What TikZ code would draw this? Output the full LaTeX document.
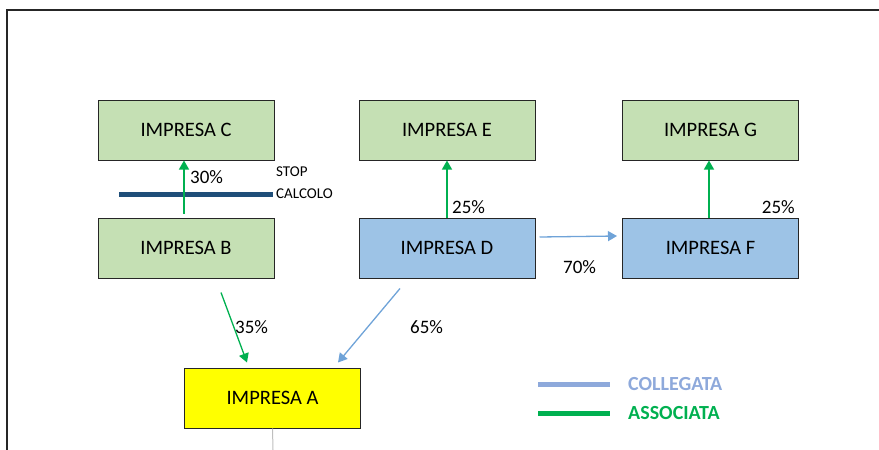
\documentclass[tikz,border=0pt]{standalone}
\usepackage{fontspec}
\setmainfont{Carlito}
\usetikzlibrary{arrows.meta,calc}
\definecolor{boxgreen}{HTML}{C5E0B4}
\definecolor{boxblue}{HTML}{9DC3E6}
\definecolor{boxyellow}{HTML}{FFFF00}
\definecolor{assoc}{HTML}{00B050}
\definecolor{colleg}{HTML}{6FA3D8}
\definecolor{legblue}{HTML}{8EA9DB}
\definecolor{stopblue}{HTML}{1F4E79}
\definecolor{edge}{HTML}{262626}
\tikzset{
  company/.style={draw=edge, line width=1pt, minimum width=176pt, minimum height=60pt, inner sep=0pt, font=\fontsize{20.5}{23}\selectfont,
    append after command={[draw=black!55, line width=0.9pt] ([xshift=1pt]\tikzlastnode.north east) -- ([xshift=1pt,yshift=-1pt]\tikzlastnode.south east) -- ([yshift=-1pt]\tikzlastnode.south west)}},
  greenbox/.style={company, fill=boxgreen},
  bluebox/.style={company, fill=boxblue},
  yellowbox/.style={company, fill=boxyellow},
  assocarrow/.style={draw=assoc, line width=1.3pt, -{Triangle[length=9pt,width=10pt]}},
  collegarrow/.style={draw=colleg, line width=1.3pt, -{Triangle[length=9pt,width=10pt]}},
  pct/.style={inner sep=0pt, font=\fontsize{19}{22}\selectfont},
  small/.style={inner sep=0pt, font=\fontsize{15}{17}\selectfont},
  legtext/.style={inner sep=0pt, anchor=west, font=\fontsize{20}{22}\selectfont\bfseries},
}
\begin{document}
\begin{tikzpicture}[x=1pt,y=-1pt]
\useasboundingbox (0,0) rectangle (879,450);
% frame
\draw[black!85, line width=1.3pt] (7,450) -- (7,10) -- (879,10);
% boxes
\node[greenbox] (C) at (186,130) {IMPRESA C};
\node[greenbox] (B) at (186,248) {IMPRESA B};
\node[greenbox] (E) at (447,130) {IMPRESA E};
\node[bluebox] (D) at (447,248) {IMPRESA D};
\node[greenbox] (G) at (710.5,130) {IMPRESA G};
\node[bluebox] (F) at (710.5,248) {IMPRESA F};
\node[yellowbox] (A) at (272.5,398) {IMPRESA A};
% stop line
\draw[stopblue, line width=5pt] (119,194) -- (273,194);
\node[small, anchor=west] (stop) at (276,172) {STOP};
\node[small, anchor=west] (calc) at (276,194) {CALCOLO};
% connectors
\draw[assocarrow] ($(B.north)+(-2,-4)$) -- ($(C.south)+(-2,0)$);
\draw[assocarrow] (D.north) -- (E.south);
\draw[assocarrow] ($(F.north)+(-1.5,0)$) -- ($(G.south)+(-1.5,0)$);
\draw[collegarrow] ($(D.east)+(4,-11)$) -- ($(F.west)+(-5,-12)$);
\draw[assocarrow] ($(B.south)+(35,14)$) -- ($(A.north)+(-25.5,-5)$);
\draw[collegarrow] ($(D.south)+(-47,10)$) -- ($(A.north)+(65.5,-5)$);
% gray line below A
\coordinate (Aend) at (273,450);
\draw[black!25, line width=1pt] (A.south) -- (Aend);
% labels
\node[pct, anchor=west] (p30) at (190,177) {30\%};
\node[pct, anchor=west] (p25a) at (452,207) {25\%};
\node[pct, anchor=east] (p25b) at (795,207) {25\%};
\node[pct, anchor=west] (p70) at (563,267) {70\%};
\node[pct, anchor=west] (p35) at (235,327) {35\%};
\node[pct, anchor=west] (p65) at (410,327) {65\%};
% legend
\coordinate (lb1) at (538,384); \coordinate (lb2) at (610,384);
\coordinate (lg1) at (538,413); \coordinate (lg2) at (610,413);
\draw[legblue, line width=5pt] (lb1) -- (lb2);
\draw[assoc, line width=5pt] (lg1) -- (lg2);
\node[legtext, text=legblue] (lcol) at (628,384) {COLLEGATA};
\node[legtext, text=assoc] (lass) at (628,413) {ASSOCIATA};
\end{tikzpicture}
\end{document}
